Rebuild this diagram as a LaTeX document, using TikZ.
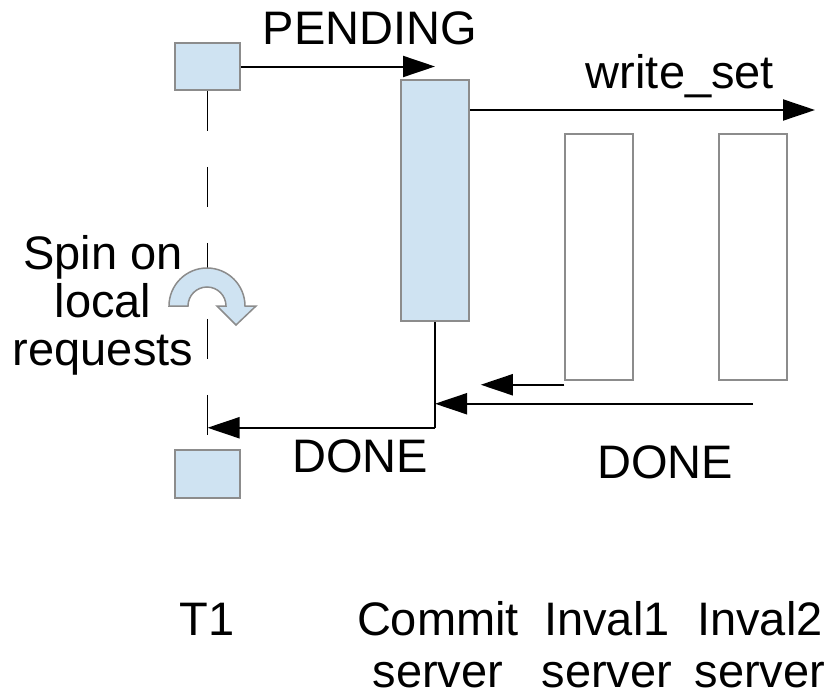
\documentclass[tikz,border=0pt]{standalone}
\usepackage{fontspec}
\setmainfont{Liberation Sans}
\usetikzlibrary{arrows.meta}
\definecolor{cB}{rgb}{0.81,0.89,0.95}
\definecolor{cE}{rgb}{0.55,0.55,0.55}
\tikzset{mybox/.style={
  shape=rectangle,
  draw=cE,
  fill=cB,
  line width=0.75pt,
  inner sep=0pt,
  }
}
\tikzset{myboxW/.style={
  shape=rectangle,
  draw=cE,
  fill=white,
  line width=0.75pt,
  inner sep=0pt,
  }
}
\tikzset{myarrow/.style={
  draw=black,
  line width=1pt,
  -{Triangle[length=16pt,width=10.5pt]},
  }
}
\tikzset{mytext/.style={
  inner sep=0pt,
  anchor=base,
  align=center,
  }
}

\begin{document}
\begin{tikzpicture}[x=0.5pt,y=-0.5pt,font=\fontsize{23.5}{26}\selectfont]
      \useasboundingbox (0,0) rectangle (831,696);

      \node [mybox, minimum width=32.5pt, minimum height=23.5pt] (t1top) at (207.5,66.5) {};
      \node [mybox, minimum width=32.5pt, minimum height=24pt] (t1bot) at (207.5,474) {};
      \node [mybox, minimum width=34pt, minimum height=120.5pt] (commit) at (435,200.5) {};
      \node [myboxW, minimum width=34pt, minimum height=123pt] (inval1) at (599,257) {};
      \node [myboxW, minimum width=34pt, minimum height=123pt] (inval2) at (753,257) {};

      \coordinate (ws) at (815,110);
      \coordinate (cd) at ([yshift=-53pt]commit.south);
      \coordinate (i1) at ([yshift=-2pt]inval1.south west);
      \coordinate (i2) at ([yshift=-11.5pt]inval2.south);

      \draw [black, line width=0.7pt, dash pattern=on 20pt off 18pt] (t1top.south) -- (t1bot.north);
      \draw [draw=cE, fill=cB, line width=0.75pt, shift={(207,306)}]
        (-38,0) arc [start angle=180, end angle=360, radius=38] -- (49,0) -- (29,19)
        -- (10,0) -- (19,0) arc [start angle=360, end angle=180, radius=19] -- cycle;

      \draw [myarrow] (t1top.east) -- (t1top.east -| commit.north);
      \draw [myarrow] (commit.east |- ws) -- (ws);
      \draw [line width=1pt] (commit.south) -- (cd);
      \draw [myarrow] (cd) -- (cd -| t1top.south);
      \draw [myarrow] (i1) -- ([xshift=5.5pt]commit.east |- i1);
      \draw [myarrow] (i2) -- (i2 -| cd);

      \node [mytext] (pending) at (370,45) {PENDING};
      \node [mytext] (writeset) at (680,88) {write\_set};
      \node [mytext] (done1) at (360,472) {DONE};
      \node [mytext] (done2) at (665,478) {DONE};
      \node [mytext, font=\fontsize{23.5}{24}\selectfont] (spin) at (103,365) {Spin on\\local\\requests};

      \node [mytext] (lt1) at (207,635) {T1};
      \node [mytext] (lcommit) at (438,687) {Commit\\server};
      \node [mytext] (linval1) at (607,687) {Inval1\\server};
      \node [mytext] (linval2) at (760,687) {Inval2\\server};
\end{tikzpicture}
\end{document}
